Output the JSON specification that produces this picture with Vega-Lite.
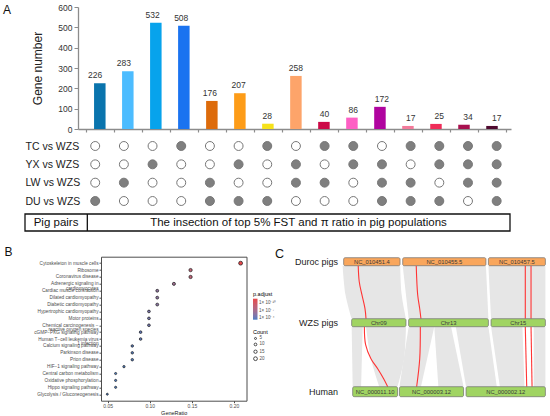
{
  "$schema": "https://vega.github.io/schema/vega-lite/v6.json",
  "background": "white",
  "autosize": {"type": "none"},
  "padding": {"left": 78, "top": 7, "right": 472, "bottom": 409},
  "config": {
    "font": "Liberation Sans",
    "view": {"stroke": null},
    "axis": {"grid": false},
    "title": {"fontWeight": "normal", "color": "#111"}
  },
  "datasets": {
    "chroms": [
      {"track": "Duroc pigs", "chr": "NC_010451.4", "start": 1.3, "end": 28.8, "mid": 15.05, "y0": 0.1, "y1": 0.9, "ymid": 0.5},
      {"track": "Duroc pigs", "chr": "NC_010455.5", "start": 30.1, "end": 70.7, "mid": 50.4, "y0": 0.1, "y1": 0.9, "ymid": 0.5},
      {"track": "Duroc pigs", "chr": "NC_010457.5", "start": 71.9, "end": 99.7, "mid": 85.8, "y0": 0.1, "y1": 0.9, "ymid": 0.5},
      {"track": "WZS pigs", "chr": "Chr09", "start": 5.2, "end": 31.7, "mid": 18.45, "y0": 6.2, "y1": 7.0, "ymid": 6.6},
      {"track": "WZS pigs", "chr": "Chr13", "start": 33.0, "end": 71.9, "mid": 52.45, "y0": 6.2, "y1": 7.0, "ymid": 6.6},
      {"track": "WZS pigs", "chr": "Chr15", "start": 73.2, "end": 99.7, "mid": 86.45, "y0": 6.2, "y1": 7.0, "ymid": 6.6},
      {"track": "Human", "chr": "NC_000011.10", "start": 5.7, "end": 27.6, "mid": 16.65, "y0": 13.0, "y1": 14.0, "ymid": 13.5},
      {"track": "Human", "chr": "NC_000003.12", "start": 28.5, "end": 59.8, "mid": 44.15, "y0": 13.0, "y1": 14.0, "ymid": 13.5},
      {"track": "Human", "chr": "NC_000002.12", "start": 61.0, "end": 99.7, "mid": 80.35, "y0": 13.0, "y1": 14.0, "ymid": 13.5}
    ]
  },
  "bounds": "flush",
  "spacing": 25.7,
  "resolve": {"scale": {"size": "independent", "fill": "independent", "color": "independent"}, "legend": {"size": "independent", "fill": "independent", "color": "independent"}},
  "vconcat": [
    {
      "width": 433,
      "height": 224,
      "title": {"text": "A", "anchor": "start", "frame": "group", "fontSize": 12, "dx": -75, "dy": 14, "offset": 0},
      "data": {"values": [
        {"col": 1, "genes": 226, "h": 225, "TC vs WZS": 0, "YX vs WZS": 0, "LW vs WZS": 0, "DU vs WZS": 1},
        {"col": 2, "genes": 283, "h": 284, "TC vs WZS": 0, "YX vs WZS": 0, "LW vs WZS": 1, "DU vs WZS": 0},
        {"col": 3, "genes": 532, "h": 523, "TC vs WZS": 0, "YX vs WZS": 1, "LW vs WZS": 0, "DU vs WZS": 0},
        {"col": 4, "genes": 508, "h": 508, "TC vs WZS": 1, "YX vs WZS": 0, "LW vs WZS": 0, "DU vs WZS": 0},
        {"col": 5, "genes": 176, "h": 138, "TC vs WZS": 0, "YX vs WZS": 0, "LW vs WZS": 1, "DU vs WZS": 1},
        {"col": 6, "genes": 207, "h": 176, "TC vs WZS": 0, "YX vs WZS": 1, "LW vs WZS": 0, "DU vs WZS": 1},
        {"col": 7, "genes": 28, "h": 26, "TC vs WZS": 1, "YX vs WZS": 0, "LW vs WZS": 0, "DU vs WZS": 1},
        {"col": 8, "genes": 258, "h": 261, "TC vs WZS": 0, "YX vs WZS": 1, "LW vs WZS": 1, "DU vs WZS": 0},
        {"col": 9, "genes": 40, "h": 35, "TC vs WZS": 1, "YX vs WZS": 0, "LW vs WZS": 1, "DU vs WZS": 0},
        {"col": 10, "genes": 86, "h": 56, "TC vs WZS": 1, "YX vs WZS": 1, "LW vs WZS": 0, "DU vs WZS": 0},
        {"col": 11, "genes": 172, "h": 109, "TC vs WZS": 0, "YX vs WZS": 1, "LW vs WZS": 1, "DU vs WZS": 1},
        {"col": 12, "genes": 17, "h": 15, "TC vs WZS": 1, "YX vs WZS": 0, "LW vs WZS": 1, "DU vs WZS": 1},
        {"col": 13, "genes": 25, "h": 25, "TC vs WZS": 1, "YX vs WZS": 1, "LW vs WZS": 0, "DU vs WZS": 1},
        {"col": 14, "genes": 34, "h": 21, "TC vs WZS": 1, "YX vs WZS": 1, "LW vs WZS": 1, "DU vs WZS": 0},
        {"col": 15, "genes": 17, "h": 15, "TC vs WZS": 1, "YX vs WZS": 1, "LW vs WZS": 1, "DU vs WZS": 1}
      ]},
      "layer": [
        {
          "mark": {"type": "bar", "size": 11.5},
          "encoding": {
            "x": {"field": "col", "type": "quantitative",
              "scale": {"domain": [0.4, 15.5], "nice": false, "zero": false},
              "axis": {"values": [0.5, 1.5, 2.5, 3.5, 4.5, 5.5, 6.5, 7.5, 8.5, 9.5, 10.5, 11.5, 12.5, 13.5, 14.5, 15.5],
                "labels": false, "title": null, "tickSize": 3, "tickColor": "#8c8c8c", "domainColor": "#8c8c8c", "domainWidth": 1.3, "tickWidth": 1.2, "offset": -102}},
            "y": {"field": "h", "type": "quantitative",
              "scale": {"domain": [0, 600], "range": [122, 0], "nice": false},
              "axis": {"values": [0, 100, 200, 300, 400, 500, 600], "title": "Gene number", "titleFontSize": 12, "titleFontWeight": "normal", "titleColor": "#222", "titlePadding": 13,
                "labelFontSize": 8.5, "labelColor": "#333", "tickSize": 4, "tickColor": "#8c8c8c", "domainColor": "#8c8c8c", "domainWidth": 1.3, "labelPadding": 2}},
            "color": {"field": "col", "type": "nominal",
              "scale": {"domain": [1, 2, 3, 4, 5, 6, 7, 8, 9, 10, 11, 12, 13, 14, 15],
                "range": ["#0a74ad", "#4cbcff", "#07a3ec", "#1a73f0", "#dd6b0b", "#fd9c18", "#f6e21a", "#fda46a", "#cc0a47", "#fd5fc4", "#b0049f", "#f27a9a", "#ef2d59", "#a8114f", "#4f0a2f"]},
              "legend": null}
          }
        },
        {
          "mark": {"type": "text", "baseline": "bottom", "dy": -3, "fontSize": 8.5, "color": "#333"},
          "encoding": {
            "x": {"field": "col", "type": "quantitative", "scale": {"domain": [0.4, 15.5], "nice": false, "zero": false}, "axis": null},
            "y": {"field": "h", "type": "quantitative", "scale": {"domain": [0, 600], "range": [122, 0], "nice": false}, "axis": null},
            "text": {"field": "genes"}
          }
        },
        {
          "transform": [{"fold": ["TC vs WZS", "YX vs WZS", "LW vs WZS", "DU vs WZS"], "as": ["pair", "in"]}],
          "mark": {"type": "circle", "size": 80, "stroke": "#777", "strokeWidth": 1, "opacity": 1},
          "encoding": {
            "x": {"field": "col", "type": "quantitative", "scale": {"domain": [0.4, 15.5], "nice": false, "zero": false}, "axis": null},
            "y": {"field": "pair", "type": "nominal",
              "scale": {"type": "point", "domain": ["TC vs WZS", "YX vs WZS", "LW vs WZS", "DU vs WZS"], "range": [139, 194], "padding": 0},
              "axis": {"orient": "left", "title": null, "domain": false, "ticks": false, "tickSize": 0, "labelAlign": "left", "labelPadding": 53, "labelFontSize": 10.5, "labelColor": "#222"}},
            "fill": {"field": "in", "type": "nominal", "scale": {"domain": [1, 0], "range": ["#7f7f7f", "#ffffff"]}, "legend": null}
          }
        },
        {
          "data": {"values": [{}]},
          "mark": {"type": "rect", "fillOpacity": 0, "stroke": "#111", "strokeWidth": 1.3},
          "encoding": {
            "x": {"datum": 0, "type": "quantitative", "scale": {"domain": [0, 100], "range": [-53, 432], "nice": false, "zero": false}, "axis": null},
            "x2": {"datum": 100},
            "y": {"datum": 0, "type": "quantitative", "scale": {"domain": [0, 1], "range": [207, 224], "nice": false}, "axis": null},
            "y2": {"datum": 1}
          }
        },
        {
          "data": {"values": [{}]},
          "mark": {"type": "rule", "stroke": "#111", "strokeWidth": 1.3},
          "encoding": {
            "x": {"datum": 12.85, "type": "quantitative", "scale": {"domain": [0, 100], "range": [-53, 432], "nice": false, "zero": false}, "axis": null},
            "y": {"datum": 0, "type": "quantitative", "scale": {"domain": [0, 1], "range": [207, 224], "nice": false}, "axis": null},
            "y2": {"datum": 1}
          }
        },
        {
          "data": {"values": [{}]},
          "mark": {"type": "text", "text": "Pig pairs", "fontSize": 11.5, "color": "#111"},
          "encoding": {
            "x": {"datum": 6.4, "type": "quantitative", "scale": {"domain": [0, 100], "range": [-53, 432], "nice": false, "zero": false}, "axis": null},
            "y": {"datum": 0.5, "type": "quantitative", "scale": {"domain": [0, 1], "range": [207, 224], "nice": false}, "axis": null}
          }
        },
        {
          "data": {"values": [{}]},
          "mark": {"type": "text", "text": "The insection of top 5% FST and π ratio in pig populations", "fontSize": 11.5, "color": "#111"},
          "encoding": {
            "x": {"datum": 56.4, "type": "quantitative", "scale": {"domain": [0, 100], "range": [-53, 432], "nice": false, "zero": false}, "axis": null},
            "y": {"datum": 0.5, "type": "quantitative", "scale": {"domain": [0, 1], "range": [207, 224], "nice": false}, "axis": null}
          }
        }
      ],
      "resolve": {"scale": {"x": "independent", "y": "independent", "color": "independent", "fill": "independent"}, "axis": {"x": "independent", "y": "independent"}}
    },
    {
      "bounds": "flush",
      "spacing": 0,
      "resolve": {"scale": {"size": "independent", "fill": "independent", "color": "independent"}, "legend": {"size": "independent", "fill": "independent", "color": "independent"}},
      "hconcat": [
        {
          "width": 22.7,
          "height": 144,
          "data": {"values": []},
          "mark": "point",
          "encoding": {}
        },
        {
          "width": 145.5,
          "height": 144,
          "view": {"stroke": "#4d4d4d", "strokeWidth": 1},
          "title": {"text": "B", "anchor": "start", "frame": "group", "fontSize": 12, "dx": -96.5, "dy": 2, "offset": 0},
          "data": {"values": [
            {"term": "Cytoskeleton in muscle cells", "GeneRatio": 0.208, "Count": 21, "padj": 3e-12},
            {"term": "Ribosome", "GeneRatio": 0.1485, "Count": 15, "padj": 1.5e-9},
            {"term": "Coronavirus disease", "GeneRatio": 0.1485, "Count": 15, "padj": 2e-9},
            {"term": "Adrenergic signaling in\ncardiomyocytes", "GeneRatio": 0.1287, "Count": 13, "padj": 1e-7},
            {"term": "Cardiac muscle contraction", "GeneRatio": 0.1089, "Count": 11, "padj": 6e-7},
            {"term": "Dilated cardiomyopathy", "GeneRatio": 0.1089, "Count": 11, "padj": 8e-7},
            {"term": "Diabetic cardiomyopathy", "GeneRatio": 0.1089, "Count": 11, "padj": 1e-6},
            {"term": "Hypertrophic cardiomyopathy", "GeneRatio": 0.099, "Count": 10, "padj": 4e-6},
            {"term": "Motor proteins", "GeneRatio": 0.099, "Count": 10, "padj": 6e-6},
            {"term": "Chemical carcinogenesis −\nreactive oxygen species", "GeneRatio": 0.099, "Count": 10, "padj": 8e-6},
            {"term": "cGMP−PKG signaling pathway", "GeneRatio": 0.0891, "Count": 9, "padj": 2.5e-5},
            {"term": "Human T−cell leukemia virus\n1 infection", "GeneRatio": 0.0891, "Count": 9, "padj": 3e-5},
            {"term": "Calcium signaling pathway", "GeneRatio": 0.0792, "Count": 8, "padj": 5e-5},
            {"term": "Parkinson disease", "GeneRatio": 0.0792, "Count": 8, "padj": 6e-5},
            {"term": "Prion disease", "GeneRatio": 0.0792, "Count": 8, "padj": 7e-5},
            {"term": "HIF−1 signaling pathway", "GeneRatio": 0.0693, "Count": 7, "padj": 8e-5},
            {"term": "Central carbon metabolism", "GeneRatio": 0.0594, "Count": 6, "padj": 9e-5},
            {"term": "Oxidative phosphorylation", "GeneRatio": 0.0594, "Count": 6, "padj": 9e-5},
            {"term": "Hippo signaling pathway", "GeneRatio": 0.0594, "Count": 6, "padj": 1e-4},
            {"term": "Glycolysis / Gluconeogenesis", "GeneRatio": 0.0495, "Count": 5, "padj": 1e-4}
          ]},
          "mark": {"type": "point", "filled": true, "stroke": "#1a1a1a", "strokeWidth": 0.7, "opacity": 1},
          "encoding": {
            "x": {"field": "GeneRatio", "type": "quantitative",
              "scale": {"domain": [0.042, 0.215], "nice": false, "zero": false},
              "axis": {"values": [0.05, 0.1, 0.15, 0.2], "format": ".2f", "title": "GeneRatio", "labelFontSize": 5, "titleFontSize": 5.5, "titleFontWeight": "normal",
                "labelColor": "#4d4d4d", "titleColor": "#222", "tickSize": 2, "tickColor": "#4d4d4d", "domain": false, "labelPadding": 1, "titlePadding": 1.5}},
            "y": {"field": "term", "type": "nominal", "sort": null,
              "scale": {"type": "point", "padding": 0.94},
              "axis": {"title": null, "labelFontSize": 4.7, "labelLineHeight": 4.2, "labelColor": "#4d4d4d", "tickSize": 2, "tickColor": "#4d4d4d", "domain": false,
                "labelPadding": 1, "labelExpr": "split(datum.label, '\\n')", "labelLimit": 0}},
            "fill": {"field": "padj", "type": "quantitative",
              "scale": {"type": "log", "domain": [1e-4, 3e-12], "range": ["#4a7dc4", "#e8474a"], "interpolate": "lab"},
              "legend": {"title": "p.adjust", "orient": "none", "legendX": 152, "legendY": 35, "values": [1e-10, 1e-7, 1e-4],
                "labelExpr": "datum.value < 1e-9 ? '1× 10⁻¹⁰' : datum.value < 1e-6 ? '1× 10⁻⁷' : '1× 10⁻⁴'",
                "gradientLength": 21, "gradientThickness": 4.5, "titleFontSize": 5.5, "titleFontWeight": "normal", "labelFontSize": 4.5, "labelColor": "#4d4d4d", "titlePadding": 1.5, "labelOffset": 1.5, "direction": "vertical"}},
            "size": {"field": "Count", "type": "quantitative",
              "scale": {"domain": [5, 21], "range": [4, 15]},
              "legend": {"title": "Count", "orient": "none", "legendX": 152, "legendY": 73, "values": [5, 10, 15, 20],
                "symbolFillColor": "#ffffff", "symbolStrokeColor": "#222", "symbolStrokeWidth": 0.8, "symbolType": "circle",
                "titleFontSize": 5.5, "titleFontWeight": "normal", "labelFontSize": 4.5, "labelColor": "#4d4d4d", "titlePadding": 1, "rowPadding": 0, "labelOffset": 1.5}}
          }
        },
        {
          "width": 93.8,
          "height": 144,
          "data": {"values": []},
          "mark": "point",
          "encoding": {}
        },
        {
          "width": 205,
          "height": 140,
          "title": {"text": "C", "anchor": "start", "frame": "group", "fontSize": 12.5, "dx": -66, "dy": 4, "offset": 0},
          "layer": [
            {
              "data": {"values": [
                {"rid": "D1", "y": 0.9, "l": 0.8, "r": 28.9},
                {"rid": "D1", "y": 3.8, "l": 2.2, "r": 29.6},
                {"rid": "D1", "y": 6.2, "l": 5.2, "r": 31.7},
                {"rid": "D2", "y": 0.9, "l": 30.1, "r": 70.7},
                {"rid": "D2", "y": 6.2, "l": 33.0, "r": 71.9},
                {"rid": "D3", "y": 0.9, "l": 71.9, "r": 99.7},
                {"rid": "D3", "y": 6.2, "l": 73.2, "r": 99.7},
                {"rid": "H1", "y": 7.0, "l": 5.2, "r": 10.6},
                {"rid": "H1", "y": 13.0, "l": 5.7, "r": 9.8},
                {"rid": "H2", "y": 7.0, "l": 12.2, "r": 31.7},
                {"rid": "H2", "y": 10.2, "l": 14.6, "r": 30.8},
                {"rid": "H2", "y": 13.0, "l": 18.7, "r": 27.6},
                {"rid": "H3", "y": 7.0, "l": 33.0, "r": 45.5},
                {"rid": "H3", "y": 13.0, "l": 28.5, "r": 39.0},
                {"rid": "H4", "y": 7.0, "l": 45.5, "r": 53.7},
                {"rid": "H4", "y": 13.0, "l": 47.5, "r": 59.8},
                {"rid": "H5", "y": 7.0, "l": 56.0, "r": 71.9},
                {"rid": "H5", "y": 13.0, "l": 61.0, "r": 76.0},
                {"rid": "H6", "y": 7.0, "l": 73.2, "r": 88.5},
                {"rid": "H6", "y": 13.0, "l": 77.5, "r": 89.5},
                {"rid": "H7", "y": 7.0, "l": 94.0, "r": 99.7},
                {"rid": "H7", "y": 13.0, "l": 94.0, "r": 99.7}
              ]},
              "mark": {"type": "area", "orient": "horizontal", "interpolate": "catmull-rom", "color": "#e6e6e6", "opacity": 1},
              "encoding": {
                "y": {"field": "y", "type": "quantitative", "scale": {"domain": [0, 14], "reverse": true, "nice": false, "zero": false}, "axis": null},
                "x": {"field": "l", "type": "quantitative", "stack": null, "scale": {"domain": [0, 100], "nice": false, "zero": false}, "axis": null},
                "x2": {"field": "r"},
                "detail": {"field": "rid"}
              }
            },
            {
              "data": {"values": [
                {"lid": "L1", "y": 0.9, "x": 8.4}, {"lid": "L1", "y": 2.5, "x": 8.9}, {"lid": "L1", "y": 3.8, "x": 10.2}, {"lid": "L1", "y": 5.2, "x": 11.7}, {"lid": "L1", "y": 6.2, "x": 12.2},
                {"lid": "L2", "y": 7.0, "x": 11.4}, {"lid": "L2", "y": 8.8, "x": 12.0}, {"lid": "L2", "y": 10.2, "x": 14.6}, {"lid": "L2", "y": 11.2, "x": 17.9}, {"lid": "L2", "y": 12.2, "x": 20.8}, {"lid": "L2", "y": 13.0, "x": 22.8},
                {"lid": "L3", "y": 0.9, "x": 36.7}, {"lid": "L3", "y": 3.8, "x": 37.4}, {"lid": "L3", "y": 5.2, "x": 38.4}, {"lid": "L3", "y": 6.2, "x": 39.0},
                {"lid": "L4", "y": 7.0, "x": 38.7}, {"lid": "L4", "y": 10.2, "x": 38.4}, {"lid": "L4", "y": 13.0, "x": 36.9},
                {"lid": "L5", "y": 0.9, "x": 89.9}, {"lid": "L5", "y": 6.2, "x": 89.9},
                {"lid": "L6", "y": 7.0, "x": 89.9}, {"lid": "L6", "y": 13.0, "x": 90.6},
                {"lid": "L7", "y": 0.9, "x": 92.7}, {"lid": "L7", "y": 6.2, "x": 92.7},
                {"lid": "L8", "y": 7.0, "x": 92.7}, {"lid": "L8", "y": 13.0, "x": 93.2}
              ]},
              "mark": {"type": "line", "interpolate": "catmull-rom", "color": "#ff3434", "strokeWidth": 1.1},
              "encoding": {
                "y": {"field": "y", "type": "quantitative"},
                "x": {"field": "x", "type": "quantitative"},
                "detail": {"field": "lid"},
                "order": {"field": "y"}
              }
            },
            {
              "data": {"name": "chroms"},
              "mark": {"type": "rect", "cornerRadius": 1.5, "stroke": "#6e6e6e", "strokeWidth": 0.7},
              "encoding": {
                "x": {"field": "start", "type": "quantitative"},
                "x2": {"field": "end"},
                "y": {"field": "y0", "type": "quantitative"},
                "y2": {"field": "y1"},
                "fill": {"field": "track", "type": "nominal", "scale": {"domain": ["Duroc pigs", "WZS pigs", "Human"], "range": ["#f9a65c", "#a0d462", "#a0d462"]}, "legend": null}
              }
            },
            {
              "data": {"name": "chroms"},
              "mark": {"type": "text", "fontSize": 5.8, "color": "#3a3a3a"},
              "encoding": {
                "x": {"field": "mid", "type": "quantitative"},
                "y": {"field": "ymid", "type": "quantitative"},
                "text": {"field": "chr"}
              }
            },
            {
              "data": {"values": [
                {"track": "Duroc pigs", "ymid": 0.5},
                {"track": "WZS pigs", "ymid": 6.6},
                {"track": "Human", "ymid": 13.5}
              ]},
              "mark": {"type": "text", "align": "right", "dx": -3, "fontSize": 9, "color": "#222"},
              "encoding": {
                "x": {"datum": 0, "type": "quantitative"},
                "y": {"field": "ymid", "type": "quantitative"},
                "text": {"field": "track"}
              }
            }
          ]
        }
      ]
    }
  ]
}
